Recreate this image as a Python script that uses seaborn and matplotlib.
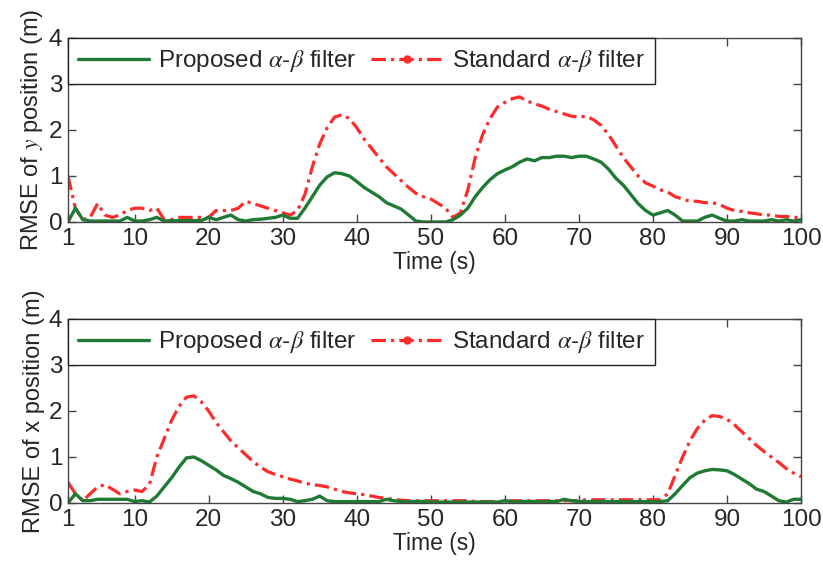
import numpy as np
import pandas as pd
import matplotlib
matplotlib.use('Agg')
import matplotlib.pyplot as plt
import seaborn as sns
from matplotlib.lines import Line2D

# time axis (s)
time_s = list(range(1, 101))

# RMSE of y position (m)
y_proposed = [0.0, 0.3, 0.05, 0.02, 0.02, 0.02, 0.02, 0.02, 0.1, 0.02,
              0.02, 0.05, 0.1, 0.02, 0.03, 0.03, 0.03, 0.03, 0.03, 0.1,
              0.05, 0.1, 0.15, 0.05, 0.02, 0.05, 0.06, 0.08, 0.1, 0.15,
              0.08, 0.08, 0.3, 0.55, 0.8, 0.98, 1.07, 1.05, 1.0, 0.88,
              0.75, 0.65, 0.55, 0.42, 0.35, 0.28, 0.15, 0.02, 0.0, 0.0,
              0.0, 0.0, 0.05, 0.15, 0.3, 0.55, 0.75, 0.92, 1.05, 1.13,
              1.2, 1.3, 1.37, 1.33, 1.4, 1.4, 1.43, 1.43, 1.4, 1.43,
              1.43, 1.37, 1.3, 1.15, 0.95, 0.8, 0.6, 0.4, 0.25, 0.15,
              0.2, 0.25, 0.15, 0.02, 0.02, 0.02, 0.1, 0.15, 0.08, 0.02,
              0.02, 0.05, 0.02, 0.02, 0.02, 0.05, 0.02, 0.05, 0.02, 0.05]
y_standard = [1.0, 0.3, 0.05, 0.1, 0.4, 0.15, 0.1, 0.15, 0.25, 0.3,
              0.3, 0.25, 0.3, 0.05, 0.05, 0.1, 0.1, 0.1, 0.1, 0.1,
              0.25, 0.25, 0.25, 0.3, 0.45, 0.4, 0.35, 0.3, 0.25, 0.2,
              0.15, 0.25, 0.6, 1.2, 1.7, 2.05, 2.28, 2.33, 2.25, 2.05,
              1.8, 1.6, 1.4, 1.2, 1.05, 0.9, 0.75, 0.62, 0.55, 0.5,
              0.4, 0.3, 0.1, 0.2, 0.7, 1.4, 1.9, 2.25, 2.5, 2.6,
              2.68, 2.72, 2.63, 2.57, 2.52, 2.45, 2.4, 2.35, 2.3, 2.28,
              2.3, 2.22, 2.1, 1.9, 1.65, 1.4, 1.2, 1.0, 0.85, 0.78,
              0.7, 0.65, 0.55, 0.5, 0.45, 0.45, 0.42, 0.42, 0.38, 0.3,
              0.25, 0.23, 0.2, 0.18, 0.15, 0.15, 0.12, 0.12, 0.1, 0.1]

# RMSE of x position (m)
x_proposed = [0.0, 0.2, 0.05, 0.05, 0.08, 0.08, 0.08, 0.08, 0.08, 0.03,
              0.05, 0.02, 0.15, 0.35, 0.55, 0.78, 0.98, 1.0, 0.92, 0.82,
              0.72, 0.6, 0.53, 0.45, 0.35, 0.25, 0.2, 0.12, 0.1, 0.1,
              0.08, 0.03, 0.05, 0.08, 0.15, 0.05, 0.03, 0.03, 0.03, 0.03,
              0.03, 0.03, 0.03, 0.08, 0.05, 0.03, 0.03, 0.03, 0.03, 0.03,
              0.02, 0.02, 0.02, 0.02, 0.02, 0.02, 0.02, 0.02, 0.02, 0.05,
              0.03, 0.03, 0.03, 0.03, 0.03, 0.03, 0.03, 0.08, 0.05, 0.03,
              0.03, 0.03, 0.03, 0.03, 0.03, 0.03, 0.03, 0.03, 0.03, 0.03,
              0.03, 0.05, 0.2, 0.38, 0.55, 0.65, 0.7, 0.73, 0.72, 0.7,
              0.62, 0.52, 0.42, 0.3, 0.25, 0.15, 0.05, 0.02, 0.08, 0.08]
x_standard = [0.45, 0.2, 0.05, 0.2, 0.35, 0.4, 0.3, 0.2, 0.25, 0.28,
              0.25, 0.4, 1.0, 1.4, 1.8, 2.1, 2.3, 2.33, 2.2, 2.0,
              1.75, 1.55, 1.35, 1.2, 1.05, 0.9, 0.78, 0.68, 0.62, 0.57,
              0.52, 0.48, 0.43, 0.4, 0.38, 0.35, 0.3, 0.25, 0.22, 0.2,
              0.18, 0.15, 0.12, 0.1, 0.08, 0.06, 0.05, 0.05, 0.05, 0.05,
              0.05, 0.05, 0.05, 0.05, 0.05, 0.03, 0.03, 0.03, 0.03, 0.03,
              0.05, 0.05, 0.05, 0.05, 0.05, 0.05, 0.05, 0.05, 0.05, 0.05,
              0.07, 0.07, 0.07, 0.07, 0.07, 0.07, 0.07, 0.07, 0.07, 0.07,
              0.07, 0.2, 0.6, 1.0, 1.35, 1.62, 1.8, 1.9, 1.88, 1.82,
              1.7, 1.55, 1.4, 1.25, 1.12, 1.0, 0.88, 0.75, 0.65, 0.57]

x_ticks = [1, 10, 20, 30, 40, 50, 60, 70, 80, 90, 100]
y_ticks = [0, 1, 2, 3, 4]

sns.set_style('ticks')
plt.rcParams['font.family'] = ['Liberation Sans', 'DejaVu Sans']
plt.rcParams['mathtext.fontset'] = 'stix'

green = '#1f7a34'
red = '#ff2a2a'
red_ls = (0, (4.5, 1.6, 1, 1.6))

fig = plt.figure(figsize=(8.23, 5.67), dpi=100)
ax_top = fig.add_axes([0.0826, 0.6085, 0.8907, 0.3245])
ax_bot = fig.add_axes([0.0826, 0.1129, 0.8907, 0.3245])

panels = [
    (ax_top, y_proposed, y_standard, 'RMSE of $y$ position (m)'),
    (ax_bot, x_proposed, x_standard, 'RMSE of x position (m)'),
]

for ax, prop, std, ylab in panels:
    df = pd.DataFrame({'t': time_s, 'proposed': prop, 'standard': std})
    sns.lineplot(data=df, x='t', y='standard', ax=ax, color=red, lw=2.3,
                 linestyle=red_ls)
    sns.lineplot(data=df, x='t', y='proposed', ax=ax, color=green, lw=2.4)
    ax.set_xlim(1, 100)
    ax.set_ylim(0, 4)
    ax.set_xticks(x_ticks)
    ax.set_yticks(y_ticks)
    ax.tick_params(direction='in', top=True, right=True, length=6,
                   width=1, color='#444444', labelsize=17.5, pad=4)
    for sp in ax.spines.values():
        sp.set_color('#444444')
        sp.set_linewidth(1)
    ax.set_xlabel('Time (s)', fontsize=16.5, labelpad=1)
    ax.set_ylabel(ylab, fontsize=17, labelpad=3)

    handles = [
        Line2D([], [], color=green, lw=2.4),
        Line2D([], [], color=red, lw=2.3, linestyle=red_ls,
               marker='o', markersize=5),
    ]
    labels = [r'Proposed $\alpha$-$\beta$ filter',
              r'Standard $\alpha$-$\beta$ filter']
    leg = ax.legend(handles, labels, loc='upper left', ncol=2,
                    bbox_to_anchor=(0, 1), borderaxespad=0,
                    fontsize=17.5, frameon=True, fancybox=False,
                    framealpha=1, edgecolor='#222222', handlelength=2.9,
                    handletextpad=0.4, columnspacing=0.6, borderpad=0.42,
                    numpoints=1)
    leg.get_frame().set_linewidth(1)

fig.savefig('out.png', dpi=100)
